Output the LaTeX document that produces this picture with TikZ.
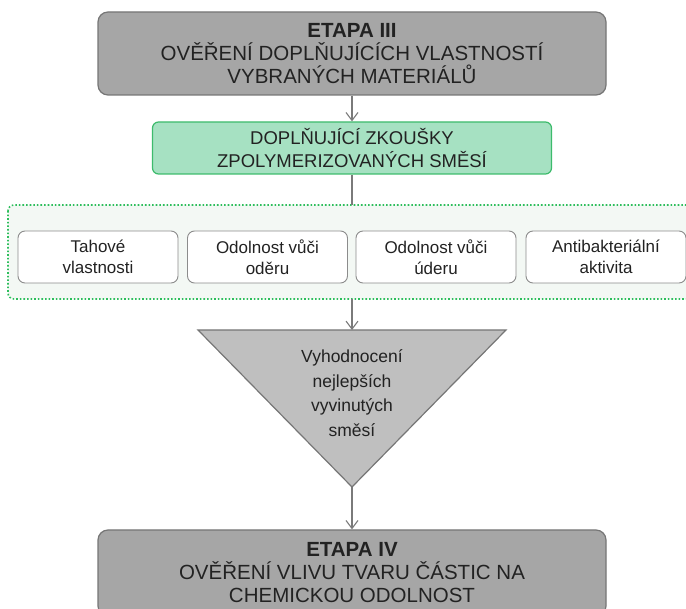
\documentclass[tikz,border=0pt]{standalone}
\usepackage{fontspec}
\setmainfont{Liberation Sans}
\usetikzlibrary{arrows.meta}
\definecolor{stagefill}{HTML}{A6A6A6}
\definecolor{stageline}{HTML}{767676}
\definecolor{greenfill}{HTML}{A6E1C2}
\definecolor{greenline}{HTML}{3DBB6C}
\definecolor{panelfill}{HTML}{F3F8F4}
\definecolor{paneldot}{HTML}{2DBE5C}
\definecolor{boxline}{HTML}{8C8C8C}
\definecolor{trifill}{HTML}{BFBFBF}
\definecolor{conn}{HTML}{7A7A7A}
\definecolor{ink}{HTML}{222222}
\begin{document}
\begin{tikzpicture}[x=1pt,y=-1pt,
  stagebox/.style={draw=stageline, fill=stagefill, line width=1.2pt, rounded corners=10pt,
    minimum width=508pt, align=center, text=ink, font=\fontsize{20.5}{23}\selectfont},
  testbox/.style={draw=greenline, fill=greenfill, line width=1.2pt, rounded corners=6pt,
    minimum width=399pt, minimum height=52pt, align=center, text=ink, font=\fontsize{18.5}{23}\selectfont},
  itembox/.style={draw=boxline, fill=white, line width=0.9pt, rounded corners=7pt,
    minimum width=160pt, minimum height=52pt, align=center, text=ink, font=\fontsize{17}{21}\selectfont},
  arr/.style={draw=conn, line width=1.1pt, -{Straight Barb[length=8pt,width=12pt,line width=1.1pt]}},
  plain/.style={draw=conn, line width=1.1pt}
]
\useasboundingbox (0,0) rectangle (686,609);
\clip (0,0) rectangle (686,609);

% top stage
\node[stagebox, minimum height=83pt] (etapa3) at (352,53.5)
  {\textbf{ETAPA III}\\OVĚŘENÍ DOPLŇUJÍCÍCH VLASTNOSTÍ\\VYBRANÝCH MATERIÁLŮ};

% green box
\node[testbox] (tests) at (352,148) {DOPLŇUJÍCÍ ZKOUŠKY\\ZPOLYMERIZOVANÝCH SMĚSÍ};

% dotted panel
\draw[draw=paneldot, fill=panelfill, line width=1.6pt, dotted, rounded corners=6pt]
  (8,205) rectangle (712,299);
\coordinate (paneltop) at (352,205);
\coordinate (panelbot) at (352,299);

% items
\node[itembox] (i1) at (98,257) {Tahové\\vlastnosti};
\node[itembox] (i2) at (267.5,257) {Odolnost vůči\\oděru};
\node[itembox] (i3) at (436,257) {Odolnost vůči\\úderu};
\node[itembox] (i4) at (606,257) {Antibakteriální\\aktivita};

% triangle
\coordinate (tritop) at (352,330);
\coordinate (triapex) at (352,487);
\filldraw[draw=stageline, fill=trifill, line width=1.2pt, line join=miter]
  (198,330) -- (506,330) -- (triapex) -- cycle;
\node[align=center, text=ink, font=\fontsize{17.5}{24.5}\selectfont] (eval) at (352,393)
  {Vyhodnocení\\nejlepších\\vyvinutých\\směsí};

% bottom stage
\node[stagebox, minimum height=86pt] (etapa4) at (352,573)
  {\textbf{ETAPA IV}\\OVĚŘENÍ VLIVU TVARU ČÁSTIC NA\\CHEMICKOU ODOLNOST};

% connectors
\draw[arr] (etapa3.south) -- (tests.north);
\draw[plain] (tests.south) -- (paneltop);
\draw[arr] (panelbot) -- (tritop);
\draw[arr] (triapex) -- (etapa4.north);
\end{tikzpicture}
\end{document}
